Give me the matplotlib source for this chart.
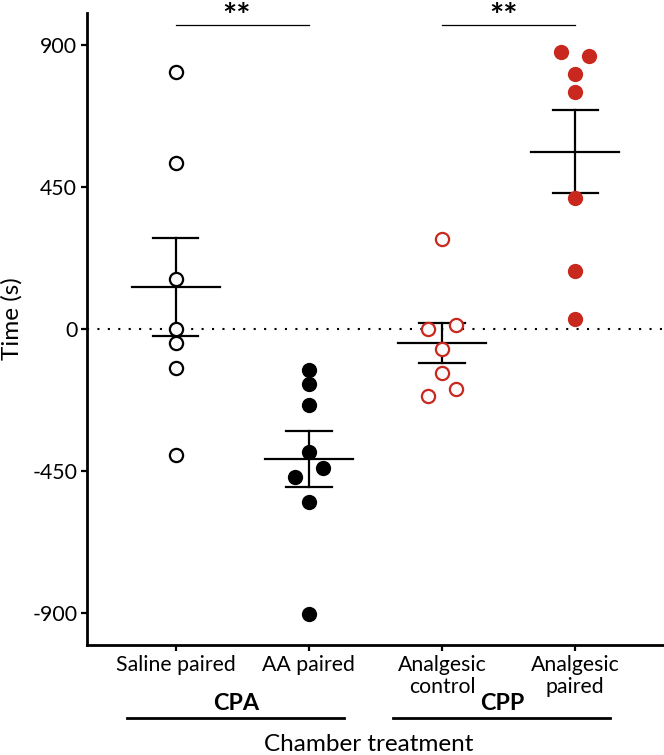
import numpy as np
import matplotlib
matplotlib.use("Agg")
import matplotlib.pyplot as plt

plt.rcParams['font.family'] = ['Lato', 'DejaVu Sans']
plt.rcParams['axes.unicode_minus'] = False

# ---- data (time in s)
groups = ["Saline paired", "AA paired", "Analgesic\ncontrol", "Analgesic\npaired"]
saline_paired = [814, 525, 157, 0, -45, -123, -399]
aa_paired = [-130, -174, -241, -389, -468, -441, -547, -901]
analgesic_control = [286, 0, 12, -64, -140, -212, -191]
analgesic_paired = [876, 865, 808, 749, 415, 185, 31]
yticks = [-900, -450, 0, 450, 900]
brackets = [("CPA", 0, 1), ("CPP", 2, 3)]
signif = [(0, 1, "**"), (2, 3, "**")]

red = "#C9281E"
styles = [dict(mfc="#FAFAFA", mec="black"),
          dict(mfc="black", mec="black"),
          dict(mfc="#FAFAFA", mec=red),
          dict(mfc=red, mec=red)]
filled = [False, True, False, True]


def swarm_offsets(vals, bin_w=35, step=0.21):
    # group nearby values into bins, spread each bin sideways
    vals = np.asarray(vals, float)
    order = np.argsort(-vals, kind="stable")
    bins = []
    for i in order:
        if bins and bins[-1][0] - vals[i] < bin_w:
            bins[-1][1].append(i)
        else:
            bins.append([vals[i], [i]])
    off = np.zeros(len(vals))
    for _, idx in bins:
        idx = sorted(idx)
        n = len(idx)
        for k, i in enumerate(idx):
            off[i] = (k - (n - 1) / 2) * step
    return off


fig = plt.figure(figsize=(6.64, 7.55), dpi=100)
ax = fig.add_axes([0.131, 0.1457, 0.869, 0.8371])

data = [saline_paired, aa_paired, analgesic_control, analgesic_paired]
xs = np.arange(1, len(groups) + 1)

ax.axhline(0, color="black", lw=1.5, ls=(0, (1, 4)), zorder=1)

for x, vals, st, fl in zip(xs, data, styles, filled):
    v = np.asarray(vals, float)
    m = v.mean()
    se = v.std(ddof=1) / np.sqrt(len(v))
    ax.plot([x, x], [m - se, m + se], color="black", lw=1.6, zorder=2)
    ax.plot([x - 0.33, x + 0.33], [m, m], color="black", lw=1.6, zorder=2)
    for yy in (m - se, m + se):
        ax.plot([x - 0.17, x + 0.17], [yy, yy], color="black", lw=1.6, zorder=2)
    off = swarm_offsets(v)
    if fl:
        ax.plot(x + off, v, "o", ms=11, mew=0, zorder=3, **st)
    else:
        ax.plot(x + off, v, "o", ms=9.5, mew=1.6, zorder=3, **st)

# significance lines
for a, b, txt in signif:
    ax.plot([xs[a], xs[b]], [961, 961], color="black", lw=0.9, clip_on=False)
    ax.text((xs[a] + xs[b]) / 2 - 0.04, 985, txt, ha="center", va="center",
            fontsize=24, fontweight="bold", clip_on=False)

ax.set_xlim(0.333, 4.667)
ax.set_ylim(-1000, 1000)
ax.set_xticks(xs)
ax.set_xticklabels(groups, fontsize=15.3, linespacing=1.15)
ax.set_yticks(yticks)
ax.set_yticklabels([str(t) for t in yticks], fontsize=15.3)
ax.tick_params(axis="both", width=1.6, length=4, pad=3)
ax.set_ylabel("Time (s)", fontsize=17.5)
ax.yaxis.set_label_coords(-0.111, 0.517)

for s in ("top", "right"):
    ax.spines[s].set_visible(False)
for s in ("left", "bottom"):
    ax.spines[s].set_linewidth(2)

# group brackets under the axis
trans = matplotlib.transforms.blended_transform_factory(ax.transData, fig.transFigure)
for name, a, b in brackets:
    c = (xs[a] + xs[b]) / 2 - 0.05
    ax.plot([c - 0.815, c + 0.815], [1 - 717.7 / 755] * 2, color="black", lw=2,
            transform=trans, clip_on=False)
    ax.text(c, 1 - 703 / 755, name, ha="center", va="center", fontsize=16.8,
            fontweight="bold", transform=trans)

fig.text(369 / 664, 1 - 751 / 755, "Chamber treatment", ha="center",
         va="baseline", fontsize=17.5)

fig.savefig("out.png", dpi=100)
